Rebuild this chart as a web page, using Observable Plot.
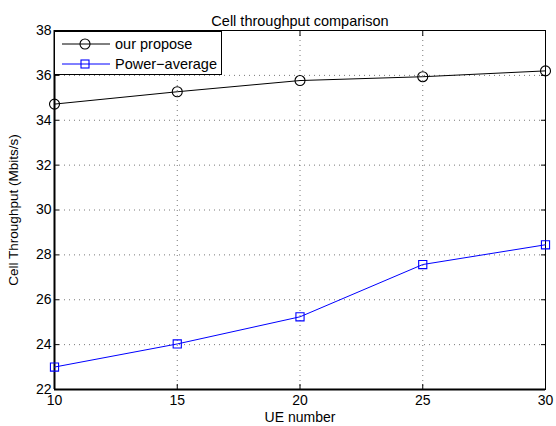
<!DOCTYPE html>
<html>
<head>
<meta charset="utf-8">
<script src="https://cdn.jsdelivr.net/npm/d3@7"></script>
<script src="https://cdn.jsdelivr.net/npm/@observablehq/plot@0.6"></script>
<style>
  body { margin: 0; background: #fff; }
  #wrap { position: relative; width: 556px; height: 426px; font-family: "Liberation Sans", Arial, sans-serif; }
  #legend { position: absolute; left: 54px; top: 31px; width: 168px; height: 44px; border: 1.2px solid #000; background: #fff; box-sizing: border-box; font-size: 14.5px; }
  .row { position: absolute; left: 0; height: 20px; display: flex; align-items: center; white-space: nowrap; }
  .row svg { margin-left: 7px; }
  .row span { margin-left: 5px; }
</style>
</head>
<body>
<div id="wrap"></div>
<script>
const ueNumbers = [10, 15, 20, 25, 30];
const ourPropose = [34.72, 35.27, 35.77, 35.94, 36.2];
const powerAverage = [23.0, 24.03, 25.24, 27.57, 28.45];
const xTicks = [10, 15, 20, 25, 30];
const yTicks = [22, 24, 26, 28, 30, 32, 34, 36, 38];
const seriesNames = ["our propose", "Power\u2212average"];
const seriesColors = ["#000000", "#0000ff"];

const data = [];
ueNumbers.forEach((u, i) => {
  data.push({ue: u, v: ourPropose[i], s: seriesNames[0]});
  data.push({ue: u, v: powerAverage[i], s: seriesNames[1]});
});

const plot = Plot.plot({
  width: 556,
  height: 426,
  marginLeft: 54,
  marginRight: 11,
  marginTop: 30,
  marginBottom: 37,
  style: {fontFamily: "'Liberation Sans', Arial, sans-serif", fontSize: "14px", background: "#fff"},
  x: {domain: [10, 30], ticks: xTicks},
  y: {domain: [22, 38], ticks: yTicks},
  marks: [
    Plot.gridX(xTicks, {stroke: "#555", strokeOpacity: 1, strokeDasharray: "1,4", strokeWidth: 0.8}),
    Plot.gridY(yTicks, {stroke: "#555", strokeOpacity: 1, strokeDasharray: "1,4", strokeWidth: 0.8}),
    Plot.axisX({ticks: xTicks, tickSize: -5, tickPadding: 11, fontSize: 14, label: "UE number", labelAnchor: "center", labelArrow: "none", labelOffset: 32}),
    Plot.axisX({anchor: "top", ticks: xTicks, tickSize: -5, text: null, label: null}),
    Plot.axisY({ticks: yTicks, tickSize: -5, tickPadding: 8, fontSize: 14, label: "Cell Throughput (Mbits/s)", labelAnchor: "center", labelArrow: "none", labelOffset: 46}),
    Plot.axisY({anchor: "right", ticks: yTicks, tickSize: -5, text: null, label: null}),
    Plot.frame({stroke: "#000", strokeWidth: 1}),
    Plot.ruleY([22], {stroke: "#000", strokeWidth: 2}),
    Plot.ruleX([10], {stroke: "#000", strokeWidth: 2}),
    Plot.line(data, {x: "ue", y: "v", z: "s", stroke: d => seriesColors[seriesNames.indexOf(d.s)], strokeWidth: 1}),
    Plot.dot(data.filter(d => d.s === seriesNames[0]), {x: "ue", y: "v", r: 5, stroke: seriesColors[0], fill: "none", strokeWidth: 1.1}),
    Plot.dot(data.filter(d => d.s === seriesNames[1]), {x: "ue", y: "v", symbol: "square", r: 4.6, stroke: seriesColors[1], fill: "none", strokeWidth: 1.1}),
    Plot.text(["Cell throughput comparison"], {frameAnchor: "top", dy: -15, fontSize: 14.5})
  ]
});
plot.querySelectorAll("[aria-label='x-axis label'] text").forEach(t => t.setAttribute("font-size", "14"));
plot.querySelectorAll("[aria-label='y-axis label'] text").forEach(t => t.setAttribute("font-size", "13.5"));
const wrap = document.getElementById("wrap");
wrap.appendChild(plot);

const legend = document.createElement("div");
legend.id = "legend";
seriesNames.forEach((name, i) => {
  const row = document.createElement("div");
  row.className = "row";
  row.style.top = (2 + i * 20) + "px";
  const marker = i === 0
    ? `<circle cx="23" cy="7" r="5" fill="none" stroke="${seriesColors[i]}" stroke-width="1.1"/>`
    : `<rect x="19" y="3" width="8" height="8" fill="none" stroke="${seriesColors[i]}" stroke-width="1.1"/>`;
  row.innerHTML = `<svg width="48" height="14"><line x1="0" x2="48" y1="7" y2="7" stroke="${seriesColors[i]}" stroke-width="1"/>${marker}</svg><span>${name}</span>`;
  legend.appendChild(row);
});
wrap.appendChild(legend);
</script>
</body>
</html>
